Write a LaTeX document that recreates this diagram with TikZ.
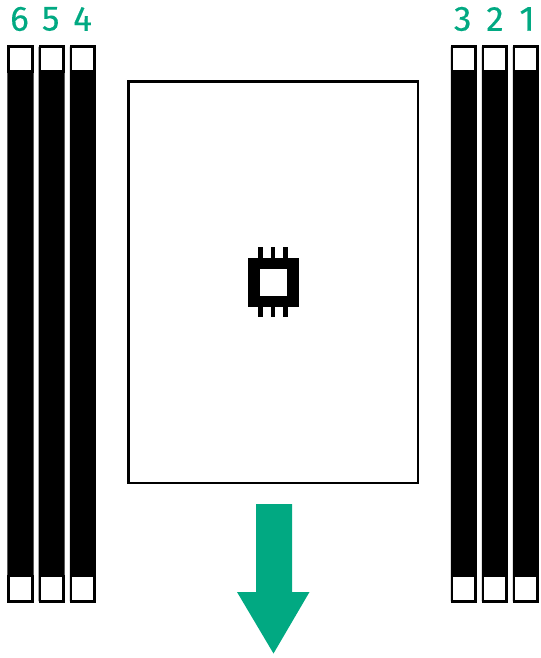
\documentclass[tikz,border=0pt]{standalone}
\usepackage{xcolor}
\usepackage{fontspec}
\newfontfamily\slotfont[FakeBold=0.25]{Fira Sans}
\usetikzlibrary{positioning}
\definecolor{mygreen}{RGB}{1,169,130}
\tikzset{
  slotbody/.style={draw=black, fill=black, line width=1.4pt, rounded corners=0.5pt},
  slottab/.style={draw=black, fill=white, line width=1.4pt},
  boardbox/.style={draw=black, fill=white, line width=1.4pt},
  slotlabel/.style={text=mygreen, font=\slotfont\fontsize{20}{20}\selectfont, inner sep=0pt},
  chipbody/.style={draw=black, fill=white, line width=6.8pt},
  chippin/.style={draw=black, line width=2.4pt}
}

\begin{document}
\begin{tikzpicture}[x=0.02cm, y=-0.02cm]
  \useasboundingbox (0,0) rectangle (540,658);
  % Memory slots and their numbers
  \foreach \n/\xa/\xl in {6/8.7/19.5, 5/39.9/50.7, 4/71/82.5, 3/452/462.7, 2/483/495, 1/514/527} {
    \draw[slotbody] (\xa,46.5) rectangle (\xa+23.6,601.5);
    \draw[slottab] (\xa,46.5) rectangle (\xa+23.6,71.5);
    \draw[slottab] (\xa,576) rectangle (\xa+23.6,601.5);
    \node[slotlabel] (label\n) at (\xl,19) {\n};
  }
  % Processor outline
  \draw[boardbox] (128.5,81.5) rectangle (418,483);
  % Chip symbol
  \foreach \xp in {260.5, 273, 285.5} {
    \draw[chippin] (\xp,247) -- (\xp,260);
    \draw[chippin] (\xp,304) -- (\xp,317);
  }
  \draw[chipbody] (254,263.5) rectangle (293,301.5);
  % Airflow arrow
  \fill[mygreen] (256,504) -- (292,504) -- (292,592) -- (309.5,592) -- (273.5,653.5) -- (237,592) -- (256,592) -- cycle;
\end{tikzpicture}
\end{document}
